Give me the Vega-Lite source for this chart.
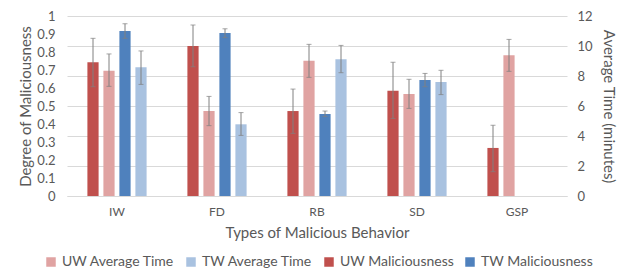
{
  "$schema": "https://vega.github.io/schema/vega-lite/v6.json",
  "width": 500,
  "height": 180,
  "autosize": {"type": "none"},
  "padding": {"left": 67, "top": 16, "right": 51, "bottom": 81},
  "background": "white",
  "config": {
    "view": {"stroke": null},
    "font": "Lato",
    "axis": {"labelColor": "#595959", "titleColor": "#595959", "labelFont": "Lato", "titleFont": "Lato", "titleFontWeight": "normal"},
    "legend": {"labelColor": "#595959", "labelFont": "Lato"}
  },
  "data": {
    "values": [
      {"cat": "IW", "series": "UW Maliciousness", "m": "mal", "v": 0.743, "lo": 0.607, "hi": 0.876},
      {"cat": "IW", "series": "UW Average Time", "m": "time", "v": 8.35, "lo": 7.31, "hi": 9.47},
      {"cat": "IW", "series": "TW Maliciousness", "m": "mal", "v": 0.917, "lo": 0.876, "hi": 0.957},
      {"cat": "IW", "series": "TW Average Time", "m": "time", "v": 8.58, "lo": 7.44, "hi": 9.67},
      {"cat": "FD", "series": "UW Maliciousness", "m": "mal", "v": 0.833, "lo": 0.718, "hi": 0.95},
      {"cat": "FD", "series": "UW Average Time", "m": "time", "v": 5.67, "lo": 4.69, "hi": 6.64},
      {"cat": "FD", "series": "TW Maliciousness", "m": "mal", "v": 0.906, "lo": 0.88, "hi": 0.929},
      {"cat": "FD", "series": "TW Average Time", "m": "time", "v": 4.78, "lo": 4.04, "hi": 5.56},
      {"cat": "RB", "series": "UW Maliciousness", "m": "mal", "v": 0.472, "lo": 0.348, "hi": 0.594},
      {"cat": "RB", "series": "UW Average Time", "m": "time", "v": 9.02, "lo": 7.91, "hi": 10.11},
      {"cat": "RB", "series": "TW Maliciousness", "m": "mal", "v": 0.456, "lo": 0.441, "hi": 0.472},
      {"cat": "RB", "series": "TW Average Time", "m": "time", "v": 9.11, "lo": 8.22, "hi": 10.04},
      {"cat": "SD", "series": "UW Maliciousness", "m": "mal", "v": 0.585, "lo": 0.431, "hi": 0.743},
      {"cat": "SD", "series": "UW Average Time", "m": "time", "v": 6.8, "lo": 5.84, "hi": 7.78},
      {"cat": "SD", "series": "TW Maliciousness", "m": "mal", "v": 0.644, "lo": 0.607, "hi": 0.681},
      {"cat": "SD", "series": "TW Average Time", "m": "time", "v": 7.6, "lo": 6.76, "hi": 8.38},
      {"cat": "GSP", "series": "UW Maliciousness", "m": "mal", "v": 0.267, "lo": 0.135, "hi": 0.393},
      {"cat": "GSP", "series": "UW Average Time", "m": "time", "v": 9.38, "lo": 8.31, "hi": 10.44}
    ]
  },
  "encoding": {
    "x": {
      "field": "cat", "type": "nominal", "sort": ["IW", "FD", "RB", "SD", "GSP"],
      "scale": {"paddingInner": 0.36, "paddingOuter": 0.18},
      "axis": {"title": "Types of Malicious Behavior", "titleFontSize": 15, "titlePadding": 8, "labelFontSize": 12, "labelAngle": 0, "labelPadding": 10, "ticks": false, "domainColor": "#D9D9D9", "grid": false}
    },
    "xOffset": {
      "field": "series", "type": "nominal",
      "scale": {"domain": ["UW Maliciousness", "UW Average Time", "TW Maliciousness", "TW Average Time"], "paddingInner": 0.3, "paddingOuter": 0.15}
    }
  },
  "layer": [
    {
      "transform": [{"filter": "datum.m === 'time'"}],
      "encoding": {
        "y": {"field": "v", "type": "quantitative", "scale": {"domain": [0, 12], "nice": false},
          "axis": {"orient": "right", "title": "Average Time (minutes)", "titleFontSize": 15, "titlePadding": 8, "labelFontSize": 13, "labelPadding": 10, "values": [0, 2, 4, 6, 8, 10, 12], "grid": true, "gridColor": "#D9D9D9", "domain": false, "ticks": false}}
      },
      "layer": [
        {"mark": {"type": "bar"},
         "encoding": {"color": {"field": "series", "type": "nominal",
            "scale": {"domain": ["UW Average Time", "TW Average Time", "UW Maliciousness", "TW Maliciousness"], "range": ["#E0A3A2", "#A9C2E0", "#C0504D", "#4F81BD"]},
            "legend": {"title": null, "orient": "none", "direction": "horizontal", "legendX": -23, "legendY": 239, "symbolType": "square", "symbolSize": 90, "labelFontSize": 14, "columnPadding": 9, "labelOffset": 4, "symbolStrokeWidth": 0}}}},
        {"mark": {"type": "rule", "color": "#808080", "strokeWidth": 1}, "encoding": {"y": {"field": "lo", "type": "quantitative"}, "y2": {"field": "hi"}}},
        {"mark": {"type": "tick", "color": "#808080", "size": 5, "thickness": 1}, "encoding": {"y": {"field": "lo", "type": "quantitative"}}},
        {"mark": {"type": "tick", "color": "#808080", "size": 5, "thickness": 1}, "encoding": {"y": {"field": "hi", "type": "quantitative"}}}
      ]
    },
    {
      "transform": [{"filter": "datum.m === 'mal'"}],
      "encoding": {
        "y": {"field": "v", "type": "quantitative", "scale": {"domain": [0, 1], "nice": false},
          "axis": {"orient": "left", "title": "Degree of Maliciousness", "titleFontSize": 15, "titlePadding": 3, "labelFontSize": 13, "labelPadding": 12, "values": [0, 0.1, 0.2, 0.3, 0.4, 0.5, 0.6, 0.7, 0.8, 0.9, 1], "format": "~g", "grid": false, "domain": false, "ticks": false}}
      },
      "layer": [
        {"mark": {"type": "bar"},
         "encoding": {"color": {"field": "series", "type": "nominal"}}},
        {"mark": {"type": "rule", "color": "#808080", "strokeWidth": 1}, "encoding": {"y": {"field": "lo", "type": "quantitative"}, "y2": {"field": "hi"}}},
        {"mark": {"type": "tick", "color": "#808080", "size": 5, "thickness": 1}, "encoding": {"y": {"field": "lo", "type": "quantitative"}}},
        {"mark": {"type": "tick", "color": "#808080", "size": 5, "thickness": 1}, "encoding": {"y": {"field": "hi", "type": "quantitative"}}}
      ]
    }
  ],
  "resolve": {"scale": {"y": "independent"}}
}
